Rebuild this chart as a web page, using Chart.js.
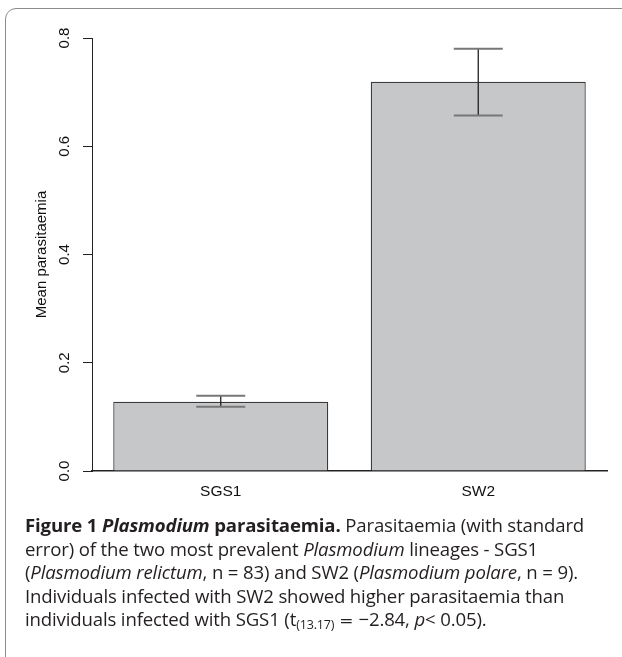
<!DOCTYPE html>
<html>
<head>
<meta charset="utf-8">
<script src="https://cdn.jsdelivr.net/npm/chart.js@4"></script>
<style>
  html, body { margin: 0; padding: 0; background: #fff; overflow: hidden; }
  body { width: 622px; height: 657px; position: relative; }
  .frame {
    position: absolute; left: 5px; top: 8px; width: 720px; height: 720px;
    border: 1.5px solid #8c8c8c; border-radius: 11px; box-sizing: border-box;
  }
  .chart-wrap { position: absolute; left: 0; top: 0; width: 622px; height: 540px; }
  .caption {
    position: absolute; left: 25px; top: 513px; width: 600px;
    font-family: "Open Sans", "Noto Sans", sans-serif; font-size: 18.6px;
    line-height: 23.6px; color: #231f20; white-space: nowrap; letter-spacing: -0.15px;
  }
  .caption b { font-weight: 700; }
  .caption sub { font-size: 12.5px; vertical-align: -3px; line-height: 0; }
  .caption .eq { font-family: "DejaVu Serif", serif; font-size: 17px; margin: 0 5px; }
</style>
</head>
<body>
<div class="frame"></div>
<div class="chart-wrap"><canvas id="c" width="622" height="540"></canvas></div>
<div class="caption">
  <b>Figure 1 <i>Plasmodium</i> parasitaemia.</b> Parasitaemia (with standard<br>
  error) of the two most prevalent <i>Plasmodium</i> lineages - SGS1<br>
  (<i>Plasmodium relictum</i>, n = 83) and SW2 (<i>Plasmodium polare</i>, n = 9).<br>
  Individuals infected with SW2 showed higher parasitaemia than<br>
  individuals infected with SGS1 (t<sub>(13.17)</sub><span class="eq">=</span>&minus;2.84, <i>p</i>&lt; 0.05).
</div>
<script>
// lineages and their mean parasitaemia
const lineages = ['SGS1', 'SW2'];
const meanValues = [0.128, 0.719];
const errLow = [0.1185, 0.657];
const errHigh = [0.139, 0.780];
const yTicks = [0.0, 0.2, 0.4, 0.6, 0.8];

const FONT = '"Liberation Sans", Arial, sans-serif';

// error bars drawn from the y scale
const errorBars = {
  id: 'errorBars',
  afterDatasetsDraw(chart) {
    const { ctx, scales: { y } } = chart;
    const meta = chart.getDatasetMeta(0);
    ctx.save();
    meta.data.forEach((bar, i) => {
      const x = bar.x;
      const top = y.getPixelForValue(errHigh[i]);
      const bot = y.getPixelForValue(errLow[i]);
      const half = 24.5;
      ctx.strokeStyle = '#222';
      ctx.lineWidth = 1.3;
      ctx.beginPath();
      ctx.moveTo(x, top); ctx.lineTo(x, bot);
      ctx.stroke();
      ctx.strokeStyle = '#777';
      ctx.lineWidth = 2;
      ctx.beginPath();
      ctx.moveTo(x - half, top); ctx.lineTo(x + half, top);
      ctx.moveTo(x - half, bot); ctx.lineTo(x + half, bot);
      ctx.stroke();
    });
    ctx.restore();
  }
};

// rotated y tick labels and axis title, R style
const rotatedY = {
  id: 'rotatedY',
  afterDraw(chart) {
    const { ctx, scales: { y } } = chart;
    ctx.save();
    ctx.fillStyle = '#111';
    ctx.font = `15px ${FONT}`;
    ctx.textAlign = 'center';
    ctx.textBaseline = 'middle';
    yTicks.forEach(v => {
      const py = y.getPixelForValue(v);
      ctx.save();
      ctx.translate(65, py);
      ctx.rotate(-Math.PI / 2);
      ctx.fillText(v.toFixed(1), 0, 0);
      ctx.restore();
    });
    const mid = (y.top + y.bottom) / 2;
    ctx.translate(42, mid);
    ctx.rotate(-Math.PI / 2);
    ctx.fillText('Mean parasitaemia', 0, 0);
    ctx.restore();
  }
};

new Chart(document.getElementById('c'), {
  type: 'bar',
  data: {
    labels: lineages,
    datasets: [{
      data: meanValues,
      backgroundColor: '#c6c7c9',
      borderColor: '#3a3a3a',
      borderWidth: 1.3,
      borderSkipped: 'bottom',
      barPercentage: 0.835,
      categoryPercentage: 1.0,
    }],
  },
  options: {
    responsive: false,
    animation: false,
    layout: { padding: { left: 83, right: 15, top: 38, bottom: 27 } },
    plugins: { legend: { display: false }, tooltip: { enabled: false } },
    scales: {
      x: {
        grid: { display: false, drawTicks: false },
        border: { display: true, color: '#222', width: 1.6 },
        ticks: { color: '#111', font: { family: FONT, size: 15.5 }, padding: 11.7 },
      },
      y: {
        min: 0,
        max: 0.8,
        afterBuildTicks: axis => { axis.ticks = yTicks.map(v => ({ value: v })); },
        grid: { drawOnChartArea: false, drawTicks: true, tickLength: 9, color: '#222', lineWidth: 1 },
        border: { display: true, color: '#222', width: 1 },
        ticks: { display: false },
      },
    },
  },
  plugins: [errorBars, rotatedY],
});
</script>
</body>
</html>
